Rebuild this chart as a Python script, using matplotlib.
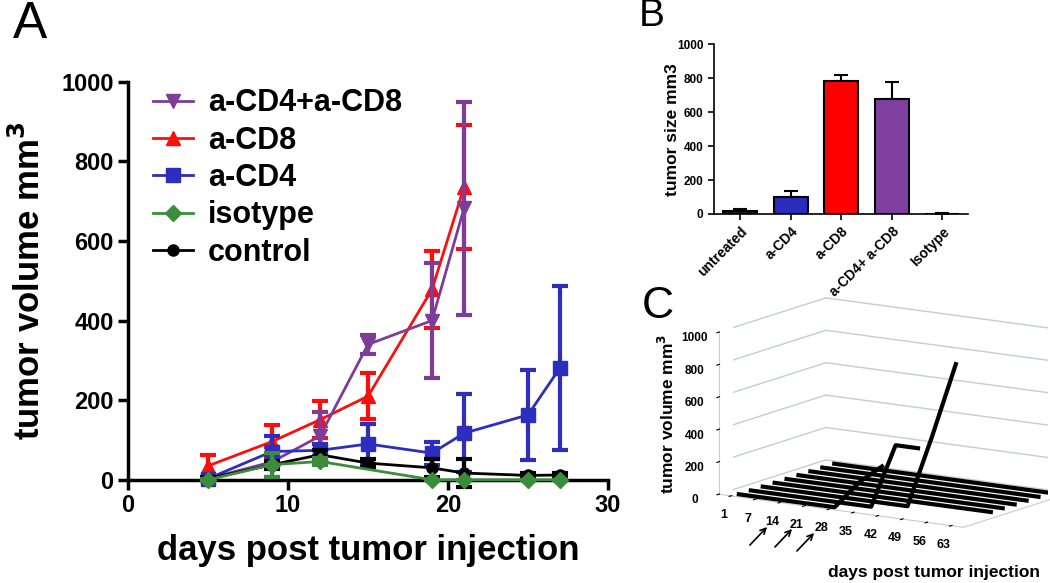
import numpy as np
import matplotlib.pyplot as plt
from mpl_toolkits.mplot3d import Axes3D  # noqa

plt.rcParams['font.family'] = ['Liberation Sans', 'DejaVu Sans']

# ---- panel A data (days post injection, mean, error) ----
days = [5, 9, 12, 15, 19, 21, 25, 27]
cd48_days = [5, 9, 12, 15, 19, 21]
cd48 = [3, 45, 110, 340, 400, 682]
cd48_err = [5, 38, 60, 23, 145, 268]
cd8_days = [5, 9, 12, 15, 19, 21]
cd8 = [35, 96, 151, 210, 478, 735]
cd8_err = [28, 42, 46, 57, 96, 155]
cd4 = [3, 71, 74, 90, 67, 117, 163, 281]
cd4_err = [5, 38, 15, 50, 29, 98, 112, 205]
iso_days = [5, 9, 12, 19, 21, 25, 27]
iso = [0, 38, 46, 0, 0, 0, 0]
iso_err = [2, 30, 10, 0, 0, 0, 0]
ctrl = [3, 38, 63, 42, 30, 17, 11, 12]
ctrl_err = [3, 10, 12, 10, 22, 35, 5, 5]

# ---- panel B data ----
groups = ['untreated', 'a-CD4', 'a-CD8', 'a-CD4+ a-CD8', 'Isotype']
size_mean = [18, 100, 785, 680, 0]
size_err = [12, 35, 35, 100, 3]
bar_colors = ['#1a1a1a', '#2b2bc0', '#ff0000', '#8040a0', '#ffffff']

# ---- panel C data (weekly, one series per mouse) ----
week_labels = ['1', '7', '14', '21', '28', '35', '42', '49', '56', '63']
mouse_curves = [
    [0, 0, 0, 0, 0, 175, 300],
    [0, 0, 0, 0, 0, 0, 400, 400],
    [0, 0, 0, 0, 0, 0, 0, 450, 930],
    [0, 0, 0, 0, 0, 0, 0, 0, 0, 0],
    [0, 0, 0, 0, 0, 0, 0, 0, 0, 0],
    [0, 0, 0, 0, 0, 0, 0, 0, 0, 0],
    [0, 0, 0, 0, 0, 0, 0, 0, 0, 0],
    [0, 0, 0, 0, 0, 0, 0, 0, 0, 0],
    [0, 0, 0, 0, 0, 0, 0, 0, 0, 0],
]

purple = '#7d3c98'
red = '#ff0d0d'
blue = '#2d2dbe'
green = '#3c8c3c'

fig = plt.figure(figsize=(10.5, 5.83), dpi=100)

# ================= C (drawn first so it sits underneath) =================
cx = fig.add_axes([0.638, 0.015, 0.42, 0.54], projection='3d', proj_type='ortho')
cx.set_facecolor('none')
cx.view_init(elev=12, azim=-57)
cx.set_box_aspect((289, 195, 164), zoom=1.2)
ncat = len(week_labels)
nser = len(mouse_curves)
cx.set_xlim(-0.5, ncat - 0.5)
cx.set_ylim(0, nser)
cx.set_zlim(0, 1000)
cx.grid(False)
for p in (cx.xaxis, cx.yaxis, cx.zaxis):
    p.set_pane_color((1, 1, 1, 0))
    p.pane.set_edgecolor('none')
gc = '#c5cec9'
for z in range(0, 1001, 200):
    cx.plot([-0.5, -0.5], [0, nser], [z, z], color=gc, lw=1)
    cx.plot([-0.5, ncat - 0.5], [nser, nser], [z, z], color=gc, lw=1)
for i, vals in enumerate(mouse_curves):
    cx.plot(np.arange(len(vals)), np.full(len(vals), i + 0.5), vals, color='black', lw=3,
            solid_capstyle='butt')
cx.set_xticks(np.arange(ncat))
cx.set_xticklabels(week_labels, fontsize=9, fontweight='bold')
cx.set_zticks(range(0, 1001, 200))
cx.set_zticklabels([str(v) for v in range(0, 1001, 200)], fontsize=8.5, fontweight='bold')
cx.zaxis.set_ticks_position('lower')
cx.tick_params(axis='z', pad=0)
cx.tick_params(axis='x', pad=0)
cx.set_yticks([])
cx.xaxis.line.set_color(gc)
cx.yaxis.line.set_color(gc)
cx.zaxis.line.set_color(gc)
fig.text(0.635, 0.29, 'tumor volume mm$\\mathbf{^3}$', rotation=90, fontsize=12.5,
         fontweight='bold', ha='center', va='center')
fig.text(0.789, 0.01, 'days post tumor injection', fontsize=12.5, fontweight='bold')
fig.text(0.611, 0.455, 'C', fontsize=32)
for x0, y0 in [(748, 36), (773, 34), (795, 30)]:
    plt.annotate('', xy=((x0 + 21) / 1050, (y0 + 22) / 583), xytext=(x0 / 1050, y0 / 583),
                 xycoords='figure fraction', textcoords='figure fraction',
                 arrowprops=dict(arrowstyle='->', color='black', lw=1.2))

# ================= A =================
ax = fig.add_axes([0.122, 0.177, 0.457, 0.683])
ekw = dict(elinewidth=3, capsize=6, capthick=3, lw=2)
h1 = ax.errorbar(cd48_days, cd48, yerr=cd48_err, color=purple, marker='v', ms=10, zorder=4, **ekw)
h2 = ax.errorbar(cd8_days, cd8, yerr=cd8_err, color=red, marker='^', ms=10, zorder=3, **ekw)
h3 = ax.errorbar(days, cd4, yerr=cd4_err, color=blue, marker='s', ms=10, zorder=5, **ekw)
h5 = ax.errorbar(days, ctrl, yerr=ctrl_err, color='black', marker='o', ms=8, zorder=6, **ekw)
h4 = ax.errorbar(iso_days, iso, yerr=iso_err, color=green, marker='D', ms=8, zorder=7, **ekw)
for h in (h1, h2, h3, h4, h5):
    for c in h[1]:
        c.set_clip_on(False)
    h[0].set_clip_on(False)

ax.set_xlim(0, 30)
ax.set_ylim(0, 1000)
ax.set_xticks([0, 10, 20, 30])
ax.set_yticks(range(0, 1001, 200))
for s in ('top', 'right'):
    ax.spines[s].set_visible(False)
for s in ('left', 'bottom'):
    ax.spines[s].set_linewidth(2.5)
ax.tick_params(width=2.5, length=7, labelsize=17)
for lab in ax.get_xticklabels() + ax.get_yticklabels():
    lab.set_fontweight('bold')
ax.set_xlabel('days post tumor injection', fontsize=25, fontweight='bold', labelpad=12)
ax.set_ylabel('tumor volume mm$\\mathbf{^3}$', fontsize=25, fontweight='bold', labelpad=10)

leg = ax.legend([h1[0], h2[0], h3[0], h4[0], h5[0]],
                ['a-CD4+a-CD8', 'a-CD8', 'a-CD4', 'isotype', 'control'],
                loc='upper left', bbox_to_anchor=(-0.005, 1.052), frameon=False,
                prop={'size': 22, 'weight': 'bold'}, handlelength=1.3,
                handletextpad=0.5, labelspacing=0.24)
fig.text(0.012, 0.934, 'A', fontsize=37)

# ================= B =================
bx = fig.add_axes([0.680, 0.633, 0.242, 0.291])
xpos = np.arange(len(groups))
bx.bar(xpos, size_mean, width=0.67, color=bar_colors, edgecolor='black', linewidth=1.5, zorder=2)
bx.errorbar(xpos, size_mean, yerr=[np.zeros(len(size_err)), size_err], fmt='none',
            ecolor='black', elinewidth=1.5, capsize=5, capthick=1.5, zorder=1)
bx.set_xlim(-0.52, 4.51)
bx.set_ylim(0, 1000)
bx.set_yticks(range(0, 1001, 200))
bx.set_xticks(xpos)
bx.set_xticklabels(groups, rotation=45, ha='right', rotation_mode='anchor',
                   fontsize=10, fontweight='bold')
for lab in bx.get_yticklabels():
    lab.set_fontweight('bold')
bx.tick_params(axis='y', labelsize=8.5)
bx.tick_params(width=1.2, length=4)
for s in ('top', 'right'):
    bx.spines[s].set_visible(False)
for s in ('left', 'bottom'):
    bx.spines[s].set_linewidth(1.2)
bx.set_ylabel('tumor size mm3', fontsize=12.5, fontweight='bold', labelpad=-2)
fig.text(0.608, 0.955, 'B', fontsize=28)

fig.savefig('out.png', dpi=100)
